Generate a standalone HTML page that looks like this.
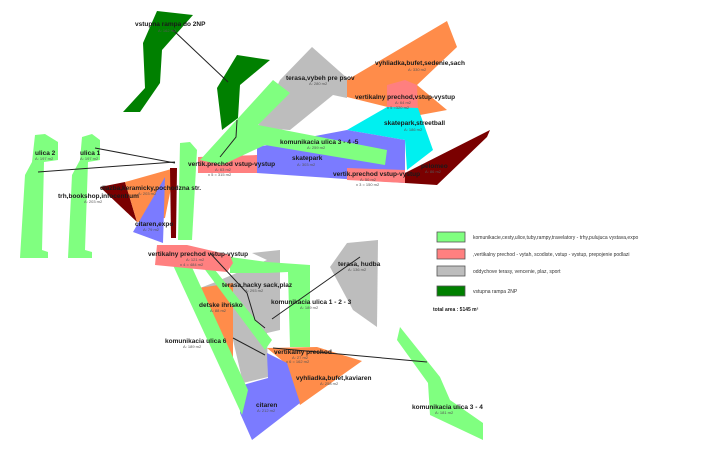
<!DOCTYPE html>
<html><head><meta charset="utf-8"><style>
html,body{margin:0;padding:0;background:#fff;width:710px;height:474px;overflow:hidden}
svg{display:block}
.t{font:bold 6.5px "Liberation Sans",sans-serif;fill:#1a1a1a}
.a{font:4px "Liberation Sans",sans-serif;fill:#555}
.l{font:5px "Liberation Sans",sans-serif;fill:#333}
</style></head><body>
<svg width="710" height="474" viewBox="0 0 710 474" xmlns="http://www.w3.org/2000/svg">
<!-- upper right cluster -->
<polygon points="280,80 312,47 347,78 347,98 333,95 290,130 257,128" fill="#bdbdbd"/>
<polygon points="347,80 447,21 457,47 417,85 447,110 420,115 347,97" fill="#ff8c4a"/>
<polygon points="387,85 405,80 417,85 418,110 387,110" fill="#ff7f7f"/>
<polygon points="347,130 387,107 418,108 433,150 407,170 405,140" fill="#00f0f0"/>
<polygon points="257,147 347,130 405,140 405,183 257,173" fill="#7b7bff"/>
<polygon points="347,168 405,170 405,183 347,180" fill="#ff8080"/>
<polygon points="405,173 490,130 487,137 437,185 405,183" fill="#7a0000"/>
<polygon points="198,157 257,155 257,173 198,173" fill="#ff8080"/>
<polygon points="200,160 273,80 290,93 258,125 387,150 385,165 265,145 222,165" fill="#80ff80"/>
<polygon points="180,143 190,142 197,150 192,240 178,240" fill="#80ff80"/>
<!-- dark green ramps -->
<polygon points="157,11 193,15 162,50 160,83 140,112 123,112 145,88 143,43" fill="#008000"/>
<polygon points="237,55 270,60 240,85 238,118 222,130 217,88" fill="#008000"/>
<!-- left -->
<polygon points="35,135 45,134 58,142 58,160 44,162 42,250 48,252 48,258 20,258 25,175 32,162" fill="#80ff80"/>
<polygon points="82,137 92,134 100,140 100,160 88,162 85,250 92,252 92,258 68,258 72,175 80,160" fill="#80ff80"/>
<polygon points="100,187 125,182 137,222" fill="#7a0000"/>
<polygon points="125,182 175,168 165,218 137,222" fill="#ff8c4a"/>
<polygon points="133,232 165,177 163,243" fill="#7b7bff"/>
<polygon points="170,168 177,168 176,238 171,238" fill="#7a0000"/>
<!-- bottom cluster -->
<polygon points="252,253 280,250 280,330 267,333 268,377 243,383 233,340 200,288 213,283 267,260" fill="#bdbdbd"/>
<polygon points="347,243 378,240 377,327 353,310 330,267" fill="#bdbdbd"/>
<polygon points="198,288 233,283 233,360" fill="#ff8c4a"/>
<polygon points="267,348 317,347 362,361 300,405 285,363" fill="#ff8c4a"/>
<polygon points="267,353 287,363 300,403 252,440 240,413 243,385 268,378" fill="#7b7bff"/>
<polygon points="172,263 190,263 248,390 242,415" fill="#80ff80"/>
<polygon points="230,257 267,262 310,265 310,347 290,347 288,272 267,273 230,273" fill="#80ff80"/>
<polygon points="203,267 215,270 272,340 265,350" fill="#80ff80"/>
<polygon points="157,245 187,245 230,255 233,263 227,272 155,265" fill="#ff8080"/>
<polygon points="400,327 440,377 450,400 483,423 483,440 430,415 428,383 397,340" fill="#80ff80"/>
<!-- lines -->
<g stroke="#222" stroke-width="1" fill="none">
<line x1="173" y1="30" x2="228" y2="82"/>
<polyline points="237,120 236,137 220,157"/>
<line x1="38" y1="172" x2="175" y2="162"/>
<line x1="95" y1="148" x2="175" y2="163"/>
<line x1="272" y1="319" x2="360" y2="257"/>
<line x1="233" y1="338" x2="265" y2="355"/>
<line x1="273" y1="348" x2="427" y2="362"/>
<polyline points="210,253 247,293 255,320 265,328"/>
</g>
<!-- labels -->
<text class="t" x="135" y="26">vstupna rampa do 2NP</text><text class="a" x="158" y="32">A: 162 m2</text>
<text class="t" x="286" y="80">terasa,vybeh pre psov</text><text class="a" x="309" y="85">A: 280 m2</text>
<text class="t" x="375" y="65">vyhliadka,bufet,sedenie,sach</text><text class="a" x="408" y="71">A: 330 m2</text>
<text class="t" x="355" y="99">vertikalny prechod,vstup-vystup</text><text class="a" x="395" y="104">A: 64 m2</text><text class="a" x="387" y="109">x 5 =320 m2</text>
<text class="t" x="384" y="125">skatepark,streetball</text><text class="a" x="404" y="131">A: 186 m2</text>
<text class="t" x="280" y="144">komunikacia ulica 3 - 4 -5</text><text class="a" x="307" y="149">A: 259 m2</text>
<text class="t" x="292" y="160">skatepark</text><text class="a" x="297" y="166">A: 303 m2</text>
<text class="t" x="188" y="166">vertik.prechod vstup-vystup</text><text class="a" x="215" y="171">A: 63 m2</text><text class="a" x="208" y="176">x 5 = 315 m2</text>
<text class="t" x="333" y="176">vertik.prechod vstup-vystup</text><text class="a" x="360" y="181">A: 50 m2</text><text class="a" x="356" y="186">x 3 = 150 m2</text>
<text class="t" x="421" y="168">pelomeo</text><text class="a" x="425" y="173">A: 86 m2</text>
<text class="t" x="35" y="155">ulica 2</text><text class="a" x="35" y="160">A: 197 m2</text>
<text class="t" x="80" y="155">ulica 1</text><text class="a" x="80" y="160">A: 197 m2</text>
<text class="t" x="100" y="190">dlazba,keramicky,pochodzna str.</text><text class="a" x="138" y="195">A: 203 m2</text>
<text class="t" x="58" y="198">trh,bookshop,infocentrum</text><text class="a" x="84" y="203">A: 203 m2</text>
<text class="t" x="135" y="226">citaren,expo</text><text class="a" x="143" y="231">A: 79 m2</text>
<text class="t" x="148" y="256">vertikalny prechod vstup-vystup</text><text class="a" x="186" y="261">A: 121 m2</text><text class="a" x="180" y="266">x 4 = 484 m2</text>
<text class="t" x="222" y="287">terasa,hacky sack,plaz</text><text class="a" x="245" y="292">A: 293 m2</text>
<text class="t" x="199" y="307">detske ihrisko</text><text class="a" x="210" y="312">A: 88 m2</text>
<text class="t" x="271" y="304">komunikacia ulica 1 - 2  - 3</text><text class="a" x="300" y="309">A: 189 m2</text>
<text class="t" x="338" y="266">terasa, hudba</text><text class="a" x="348" y="271">A: 136 m2</text>
<text class="t" x="165" y="343">komunikacia ulica 6</text><text class="a" x="183" y="348">A: 189 m2</text>
<text class="t" x="274" y="354">vertikalny prechod</text><text class="a" x="292" y="359">A: 27 m2</text><text class="a" x="286" y="363">x 6 = 162 m2</text>
<text class="t" x="296" y="380">vyhliadka,bufet,kaviaren</text><text class="a" x="320" y="385">A: 258 m2</text>
<text class="t" x="256" y="407">citaren</text><text class="a" x="257" y="412">A: 212 m2</text>
<text class="t" x="412" y="409">komunikacia ulica 3 - 4</text><text class="a" x="435" y="414">A: 181 m2</text>
<!-- legend -->
<g stroke="#555" stroke-width="0.8">
<rect x="437" y="232" width="28" height="10" fill="#80ff80"/>
<rect x="437" y="249" width="28" height="10" fill="#ff8080"/>
<rect x="437" y="266" width="28" height="10" fill="#bdbdbd"/>
<rect x="437" y="286" width="28" height="10" fill="#008000"/>
</g>
<text class="l" x="473" y="239">komunikacie,cesty,ulice,tuby,rampy,travelatory - trhy,pulujuca vystava,expo</text>
<text class="l" x="473" y="256">,vertikalny prechod - vytah, scodiste, vstup - vystup, prepojenie podlazi</text>
<text class="l" x="473" y="273">oddychove terasy, vencenie, plaz, sport</text>
<text class="l" x="473" y="293">vstupna rampa 2NP</text>
<text class="t" x="433" y="311" style="font-size:5px">total area : 5145 m²</text>
</svg>
</body></html>
